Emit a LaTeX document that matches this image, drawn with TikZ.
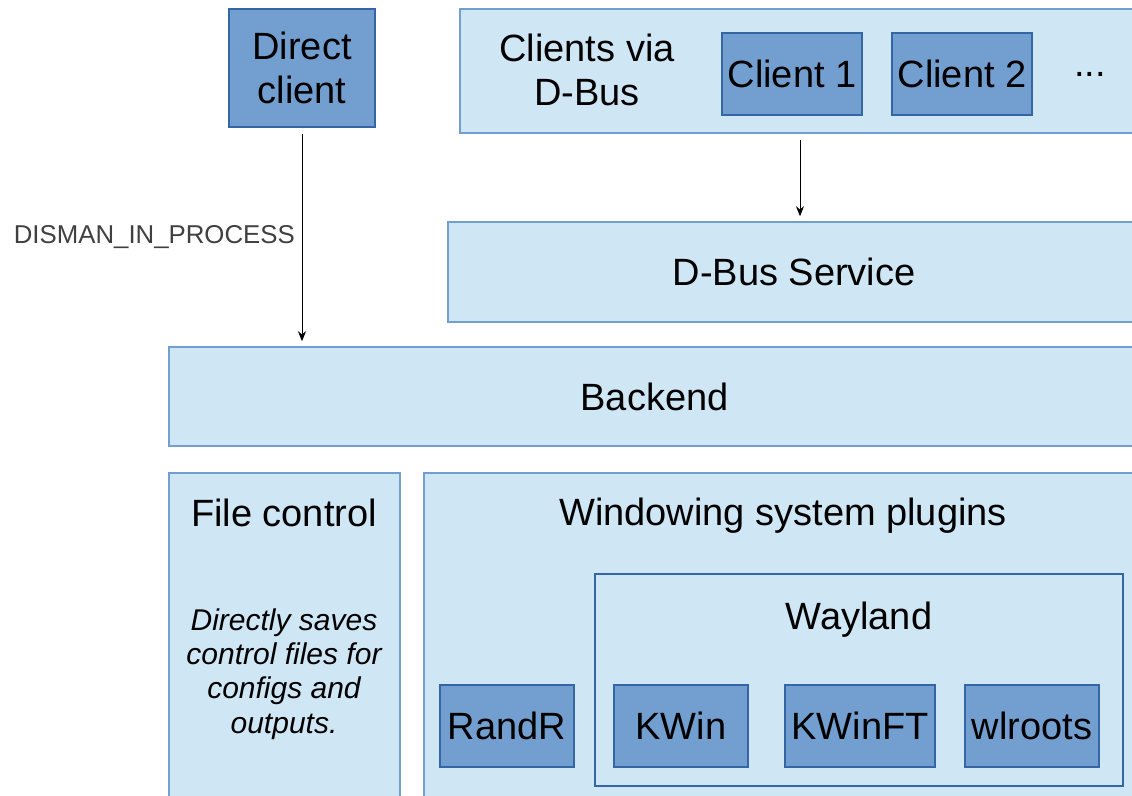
\documentclass[tikz,border=0pt]{standalone}
\usepackage{fontspec}
\setmainfont{Liberation Sans}
\usetikzlibrary{positioning}
\usetikzlibrary{arrows.meta}
\definecolor{layerFill}{RGB}{207,231,245}
\definecolor{layerEdge}{RGB}{114,159,207}
\definecolor{moduleFill}{RGB}{114,159,207}
\definecolor{moduleEdge}{RGB}{52,101,164}
\newcommand{\mainFont}{\fontsize{19}{22}\selectfont}
\newcommand{\noteFont}{\fontsize{15}{17.2}\selectfont\itshape}
\newcommand{\envFont}{\fontsize{12.9}{15}\selectfont}

\begin{document}
\begin{tikzpicture}[x=0.5pt,y=-0.5pt,font=\mainFont,
    layer/.style={draw=layerEdge,fill=layerFill,line width=0.75pt,inner sep=0pt},
    module/.style={draw=moduleEdge,fill=moduleFill,line width=0.75pt,inner sep=0pt,
      align=center,minimum height=41pt},
    flow/.style={-{Stealth[length=5pt,width=4pt]},line width=0.5pt,shorten >=2.5pt,shorten <=3pt}]
  \path[use as bounding box,clip] (0,0) rectangle (1132,796);

  % top row
  \node[module,minimum width=73pt,minimum height=59pt] (direct) at (302,68) {Direct\\client};
  \node[layer,minimum width=340pt,minimum height=62pt] (clients) at (800,71) {};
  \node[align=center] (viaText) at (587,70) {Clients via\\D-Bus};
  \node[module,minimum width=70pt] (client1) at (792,74) {Client 1};
  \node[module,minimum width=70pt] (client2) at (962,74) {Client 2};
  \node (more) at (1090,74) {...};

  % middle layers
  \node[layer,minimum width=346pt,minimum height=50pt] (dbus) at (794,272) {D-Bus Service};
  \node[layer,minimum width=485.5pt,minimum height=49.5pt] (backend) at (654.5,396.5) {Backend};

  % bottom row
  \node[layer,minimum width=115.5pt,minimum height=168.5pt] (file) at (284.5,641.5) {};
  \node (fileTitle) at (284,513) {File control};
  \node[font=\noteFont,align=center] (fileNote) at (284,674)
    {Directly saves\\control files for\\configs and\\outputs.};
  \node[layer,minimum width=358pt,minimum height=168.5pt] (plugins) at (782,641.5) {};
  \node (pluginsTitle) at (783,516) {Windowing system plugins};
  \node[layer,draw=moduleEdge,minimum width=264pt,minimum height=106pt] (wayland) at (859,680) {};
  \node (waylandTitle) at (859,620) {Wayland};
  \node[module,minimum width=67pt] (randr) at (507,726) {RandR};
  \node[module,minimum width=67pt] (kwin) at (681,726) {KWin};
  \node[module,minimum width=75pt] (kwinft) at (860,726) {KWinFT};
  \node[module,minimum width=67pt] (wlroots) at (1032,726) {wlroots};

  % connections
  \draw[flow] (direct.south) -- node[midway,left,font=\envFont,text=black!75] {DISMAN\_IN\_PROCESS}
    (direct.south |- backend.north);
  \draw[flow] (clients.south) -- (clients.south |- dbus.north);
\end{tikzpicture}
\end{document}
